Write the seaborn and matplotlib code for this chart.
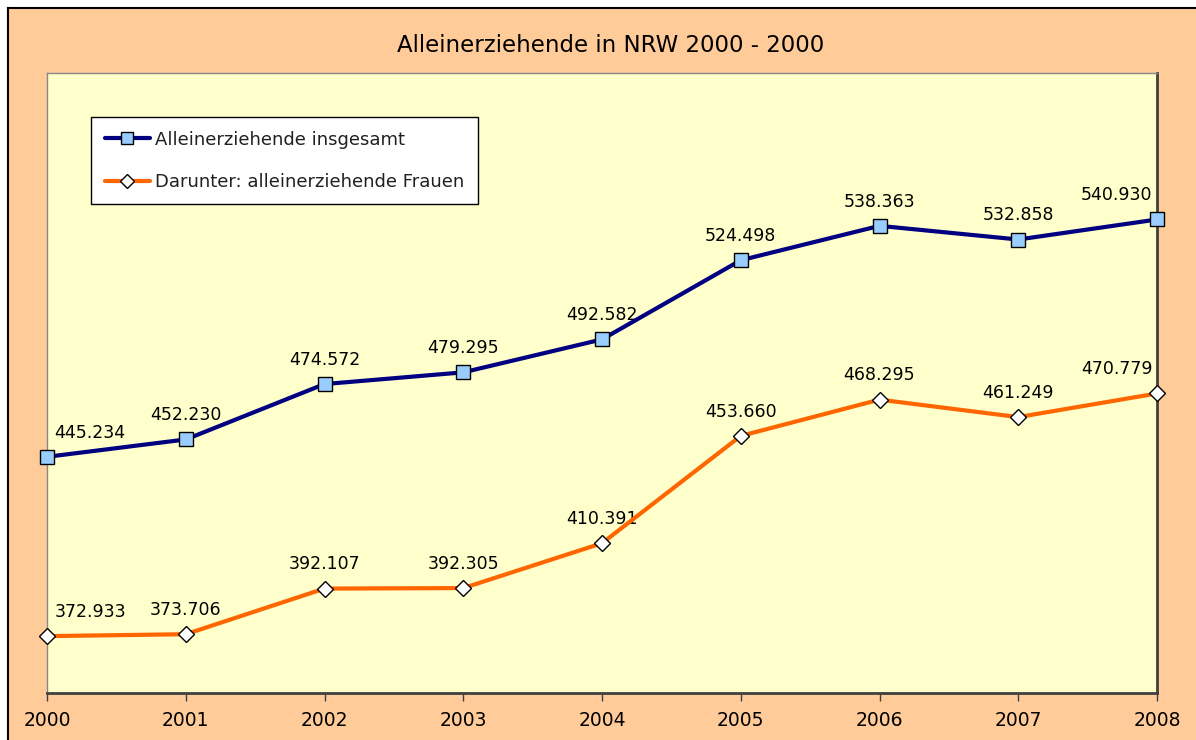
import pandas as pd
import matplotlib.pyplot as plt
import seaborn as sns
from matplotlib.lines import Line2D

# data
years = [2000, 2001, 2002, 2003, 2004, 2005, 2006, 2007, 2008]
insgesamt = [445234, 452230, 474572, 479295, 492582, 524498, 538363, 532858, 540930]
frauen = [372933, 373706, 392107, 392305, 410391, 453660, 468295, 461249, 470779]
series_names = ['Alleinerziehende insgesamt', 'Darunter: alleinerziehende Frauen']
title = 'Alleinerziehende in NRW 2000 - 2000'

df = pd.DataFrame({
    'Jahr': years * 2,
    'Wert': insgesamt + frauen,
    'Reihe': [series_names[0]] * len(years) + [series_names[1]] * len(years),
})

sns.set_theme(style='white')
plt.rcParams['font.family'] = ['DejaVu Sans']

fig = plt.figure(figsize=(11.96, 7.40), dpi=100)
fig.patch.set_facecolor('white')

# outer chart frame (peach area with black border) as a background axes
bg = fig.add_axes([8 / 1196, 0, 1.0, (740 - 8) / 740])
bg.set_facecolor('#FFCC99')
bg.set_xticks([])
bg.set_yticks([])
for side in ['top', 'left']:
    bg.spines[side].set_color('black')
    bg.spines[side].set_linewidth(1.5)
for side in ['right', 'bottom']:
    bg.spines[side].set_visible(False)
bg.set_zorder(0)

ax = fig.add_axes([47 / 1196, 47 / 740, 1110 / 1196, 620 / 740])
ax.set_zorder(2)
ax.set_facecolor('#FFFFCC')

palette = {series_names[0]: '#000080', series_names[1]: '#FF6600'}
sns.lineplot(data=df, x='Jahr', y='Wert', hue='Reihe', style='Reihe',
             palette=palette, markers={series_names[0]: 's', series_names[1]: 'D'},
             dashes=False, linewidth=3.0, markersize=9.5, ax=ax, legend=False)

# marker faces like the original
face = ['#99CCFF', 'white']
msize = [9.5, 8.5]
for line, fc, ms in zip(ax.lines, face, msize):
    line.set_markerfacecolor(fc)
    line.set_markeredgecolor('black')
    line.set_markeredgewidth(1.0)
    line.set_markersize(ms)
    line.set_clip_on(False)
    line.set_zorder(5)

# data labels
for vals in (insgesamt, frauen):
    for i, (x, v) in enumerate(zip(years, vals)):
        dx = 0
        if i == 0:
            dx = 31
        elif i == len(years) - 1:
            dx = -29
        ax.annotate(f'{v:,}'.replace(',', '.'), (x, v), xytext=(dx, 11),
                    textcoords='offset points', ha='center', va='bottom',
                    fontsize=12.5, color='black')

ax.set_xlim(2000, 2008)
ax.set_ylim(350000, 600000)
ax.set_xticks(years)
ax.set_xticklabels([str(y) for y in years], fontsize=13.5, color='black')
ax.set_yticks([])
ax.set_xlabel('')
ax.set_ylabel('')
ax.tick_params(axis='x', direction='out', length=6, width=1, color='#404040',
               pad=7, bottom=True)

for side in ['top', 'left']:
    ax.spines[side].set_color('#888888')
    ax.spines[side].set_linewidth(1.0)
for side in ['right', 'bottom']:
    ax.spines[side].set_color('#404040')
    ax.spines[side].set_linewidth(2.0)

# legend
handles = [
    Line2D([], [], color='#000080', lw=3.0, marker='s', markersize=8.5,
           markerfacecolor='#99CCFF', markeredgecolor='black'),
    Line2D([], [], color='#FF6600', lw=3.0, marker='D', markersize=7,
           markerfacecolor='white', markeredgecolor='black'),
]
leg = ax.legend(handles, series_names, loc='upper left',
                bbox_to_anchor=(44 / 1110, (693 - 117) / 620),
                borderaxespad=0, fancybox=False, frameon=True,
                edgecolor='black', facecolor='white', framealpha=1,
                fontsize=13, handlelength=2.5, handletextpad=0.3,
                labelspacing=1.35, borderpad=0.75)
leg.get_frame().set_linewidth(1.0)
for t in leg.get_texts():
    t.set_color('#202020')

fig.text(611 / 1196, 1 - 45 / 740, title, ha='center', va='center',
         fontsize=16.5, color='black', zorder=3)

fig.savefig('out.png', dpi=100, facecolor=fig.get_facecolor())
